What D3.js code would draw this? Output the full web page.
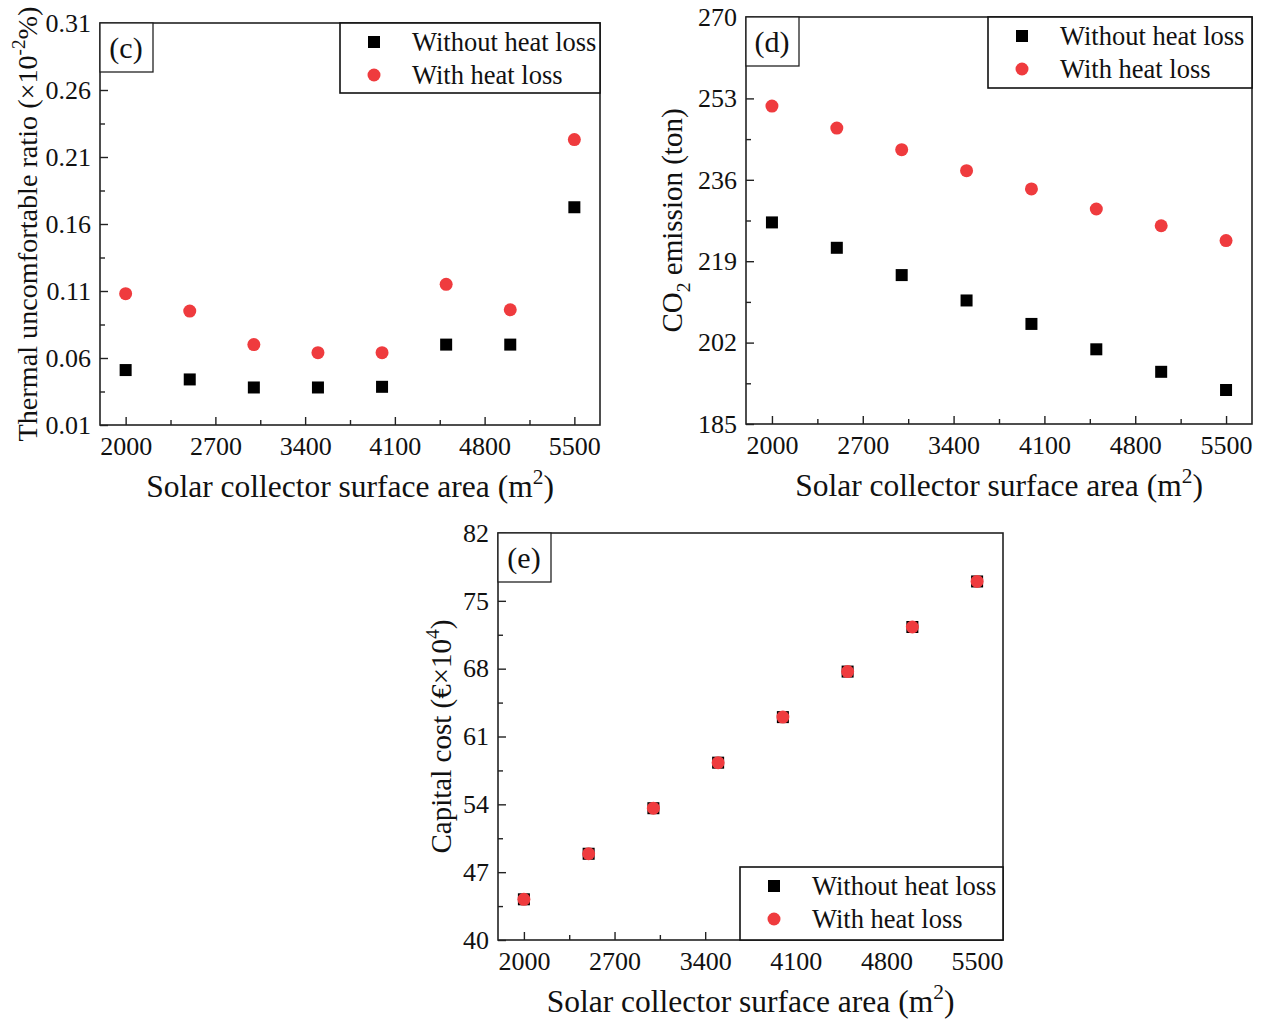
<!DOCTYPE html>
<html>
<head>
<meta charset="utf-8">
<script src="https://cdn.jsdelivr.net/npm/d3@7/dist/d3.min.js"></script>
<style>
  body { margin: 0; background: #fff; }
  svg text { font-family: "Liberation Serif", "Times New Roman", serif; fill: #111; }
</style>
</head>
<body>
<script>
// collector areas (m2) shared by all three panels
const areas = [2000, 2500, 3000, 3500, 4000, 4500, 5000, 5500];
const xTicks = [2000, 2700, 3400, 4100, 4800, 5500];

// (c) thermal uncomfortable ratio
const ratioWithout = [0.051, 0.044, 0.038, 0.038, 0.0385, 0.070, 0.070, 0.1725];
const ratioWith = [0.108, 0.095, 0.070, 0.064, 0.064, 0.115, 0.096, 0.223];
const ratioTicks = [0.01, 0.06, 0.11, 0.16, 0.21, 0.26, 0.31];

// (d) CO2 emission
const co2Without = [227.1, 221.8, 216.1, 210.8, 205.9, 200.6, 195.9, 192.1];
const co2With = [251.4, 246.8, 242.3, 237.9, 234.1, 229.9, 226.4, 223.3];
const co2Ticks = [185, 202, 219, 236, 253, 270];

// (e) capital cost
const costWithout = [44.2, 48.9, 53.6, 58.3, 63.0, 67.7, 72.3, 77.0];
const costWith = [44.2, 48.9, 53.6, 58.3, 63.0, 67.7, 72.3, 77.0];
const costTicks = [40, 47, 54, 61, 68, 75, 82];

const seriesNames = ['Without heat loss', 'With heat loss'];
const RED = '#ef3b3e';

const svg = d3.select('body').append('svg')
    .attr('width', 1263)
    .attr('height', 1021);

// text with sub / superscript pieces: parts = [[text, 0|1|-1], ...]
function richText(t, parts, size) {
    let back = 0;
    parts.forEach(p => {
        let shift = p[1] === 1 ? -0.42 * size : p[1] === -1 ? 0.28 * size : 0;
        let ts = t.append('tspan').text(p[0]);
        if (shift) {
            ts.attr('dy', shift + back).attr('font-size', size * 0.68);
            back = -shift;
        } else if (back) {
            ts.attr('dy', back);
            back = 0;
        }
    });
}

const xTitle = [['Solar collector surface area (m', 0], ['2', 1], [')', 0]];

function drawPanel(p) {
    let g = svg.append('g');
    let x = d3.scaleLinear().domain([1800, 5700]).range([p.x0, p.x1]);
    let y = d3.scaleLinear().domain([p.yTicks[0], p.yTicks[p.yTicks.length - 1]]).range([p.y1, p.y0]);

    // minor ticks at the midpoints
    let xMinor = xTicks.slice(0, -1).map((v, i) => (v + xTicks[i + 1]) / 2);
    let yMinor = p.yTicks.slice(0, -1).map((v, i) => (v + p.yTicks[i + 1]) / 2);

    g.append('g').attr('transform', `translate(0,${p.y1})`)
        .call(d3.axisBottom(x).tickValues(xTicks).tickSize(-8).tickPadding(12).tickFormat(d3.format('d')));
    g.append('g').attr('transform', `translate(0,${p.y1})`)
        .call(d3.axisBottom(x).tickValues(xMinor).tickSize(-5).tickFormat(''));
    g.append('g').attr('transform', `translate(${p.x0},0)`)
        .call(d3.axisLeft(y).tickValues(p.yTicks).tickSize(-8).tickPadding(9).tickFormat(p.fmt));
    g.append('g').attr('transform', `translate(${p.x0},0)`)
        .call(d3.axisLeft(y).tickValues(yMinor).tickSize(-5).tickFormat(''));
    g.selectAll('.domain').remove();
    // drop the empty labels of the minor axes
    g.selectAll('.tick text').filter(function () { return this.textContent === ''; }).remove();
    g.selectAll('.tick line').attr('stroke', '#222').attr('stroke-width', 1.4);
    g.selectAll('.tick text').attr('font-size', 26).attr('fill', '#111');

    g.append('rect')
        .attr('x', p.x0).attr('y', p.y0)
        .attr('width', p.x1 - p.x0).attr('height', p.y1 - p.y0)
        .attr('fill', 'none').attr('stroke', '#222').attr('stroke-width', 1.6);

    // points
    g.selectAll('rect.sq').data(areas).enter().append('rect')
        .attr('class', 'sq')
        .attr('x', (d) => x(d) - 6)
        .attr('y', (d, i) => y(p.without[i]) - 6)
        .attr('width', 12).attr('height', 12)
        .attr('fill', '#000');
    g.selectAll('circle.dot').data(areas).enter().append('circle')
        .attr('class', 'dot')
        .attr('cx', (d) => x(d))
        .attr('cy', (d, i) => y(p.with[i]))
        .attr('r', 6.5)
        .attr('fill', RED);

    // panel tag
    g.append('rect')
        .attr('x', p.x0).attr('y', p.y0)
        .attr('width', 53).attr('height', 49)
        .attr('fill', '#fff').attr('stroke', '#222').attr('stroke-width', 1.3);
    g.append('text')
        .attr('x', p.x0 + 26).attr('y', p.y0 + 35)
        .attr('text-anchor', 'middle').attr('font-size', 30)
        .text(p.tag);

    // legend
    let L = p.legend;
    let lg = g.append('g').attr('transform', `translate(${L.x},${L.y})`);
    lg.append('rect').attr('width', L.w).attr('height', L.h)
        .attr('fill', '#fff').attr('stroke', '#111').attr('stroke-width', 1.6);
    lg.append('rect').attr('x', 28).attr('y', 13).attr('width', 12).attr('height', 12).attr('fill', '#000');
    lg.append('circle').attr('cx', 34).attr('cy', 52).attr('r', 6.5).attr('fill', RED);
    seriesNames.forEach((s, i) => {
        lg.append('text').attr('x', 72).attr('y', 28 + i * 33)
            .attr('font-size', 26.5).text(s);
    });

    // axis titles
    let tx = g.append('text')
        .attr('x', (p.x0 + p.x1) / 2).attr('y', p.y1 + 72)
        .attr('text-anchor', 'middle').attr('font-size', 31.5);
    richText(tx, xTitle, 31.5);

    let ty = g.append('text')
        .attr('transform', `translate(${p.ylabelX},${(p.y0 + p.y1) / 2}) rotate(-90)`)
        .attr('text-anchor', 'middle').attr('font-size', p.ysize);
    richText(ty, p.ylabel, p.ysize);
}

drawPanel({
    x0: 100, x1: 600, y0: 23, y1: 425,
    yTicks: ratioTicks, fmt: d3.format('.2f'),
    without: ratioWithout, with: ratioWith,
    tag: '(c)',
    legend: { x: 340, y: 23, w: 260, h: 70 },
    ylabelX: 37, ysize: 28.2,
    ylabel: [['Thermal uncomfortable ratio (\u00d710', 0], ['-2', 1], ['%)', 0]]
});

drawPanel({
    x0: 746, x1: 1252, y0: 17, y1: 424,
    yTicks: co2Ticks, fmt: d3.format('d'),
    without: co2Without, with: co2With,
    tag: '(d)',
    legend: { x: 988, y: 17, w: 264, h: 71 },
    ylabelX: 682, ysize: 29,
    ylabel: [['CO', 0], ['2', -1], [' emission (ton)', 0]]
});

drawPanel({
    x0: 498, x1: 1003, y0: 533, y1: 940,
    yTicks: costTicks, fmt: d3.format('d'),
    without: costWithout, with: costWith,
    tag: '(e)',
    legend: { x: 740, y: 867, w: 263, h: 73 },
    ylabelX: 451, ysize: 29,
    ylabel: [['Capital cost (\u20ac\u00d710', 0], ['4', 1], [')', 0]]
});
</script>
</body>
</html>
